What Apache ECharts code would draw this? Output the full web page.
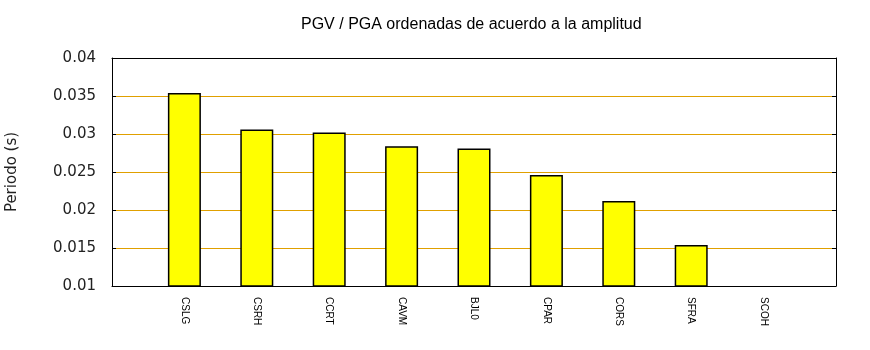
<!DOCTYPE html>
<html>
<head>
<meta charset="utf-8">
<script src="https://cdn.jsdelivr.net/npm/echarts@6/dist/echarts.min.js"></script>
<style>html,body{margin:0;padding:0;background:#fff}#c{width:870px;height:350px}</style>
</head>
<body>
<div id="c"></div>
<script>
var categories = ['CSLG','CSRH','CCRT','CAVM','BJL0','CPAR','CORS','SFRA','SCOH'];
var values = [0.0354, 0.0306, 0.0302, 0.0284, 0.0281, 0.0246, 0.0212, 0.0154, 0.0095];
var yTicks = [0.01, 0.015, 0.02, 0.025, 0.03, 0.035, 0.04];

var cats = [''].concat(categories).concat(['']);
var vals = [null].concat(values).concat([null]);

var chart = echarts.init(document.getElementById('c'), null, {renderer:'canvas'});
chart.setOption({
  animation: false,
  backgroundColor: '#fff',
  title: {
    text: 'PGV / PGA ordenadas de acuerdo a la amplitud',
    left: 301, top: 17, padding: 0,
    textStyle: {fontFamily: 'Liberation Sans', fontSize: 16, fontWeight: 'normal', color: '#000'}
  },
  grid: {left: 112, right: 34, top: 58, bottom: 64, containLabel: false, outerBoundsMode: 'none'},
  xAxis: [{
    type: 'category', data: cats, boundaryGap: false,
    axisLine: {show: true, lineStyle: {color: '#000', width: 1}},
    axisTick: {show: false},
    axisLabel: {rotate: -90, margin: 11, fontFamily: 'Liberation Sans', fontSize: 10, color: '#000', interval: 0}
  }, {
    type: 'category', data: cats, boundaryGap: false, position: 'top',
    axisLine: {show: true, onZero: false, lineStyle: {color: '#000', width: 1}},
    axisTick: {show: false}, axisLabel: {show: false}
  }],
  yAxis: [{
    type: 'value', min: 0.01, max: 0.04, interval: 0.005,
    name: 'Periodo (s)', nameLocation: 'middle', nameGap: 92, nameRotate: 90,
    nameTextStyle: {fontFamily: 'DejaVu Sans', fontSize: 15, color: '#222'},
    axisLine: {show: true, lineStyle: {color: '#000', width: 1}},
    axisTick: {show: true, inside: true, length: 4, lineStyle: {color: '#000'}},
    axisLabel: {margin: 16, fontFamily: 'DejaVu Sans', fontSize: 15, color: '#222',
      formatter: function(v){ return String(parseFloat(v.toFixed(4))); }},
    splitLine: {show: true, lineStyle: {color: '#e0a000', width: 1}}
  }, {
    type: 'value', min: 0.01, max: 0.04, interval: 0.005, position: 'right',
    axisLine: {show: true, onZero: false, lineStyle: {color: '#000', width: 1}},
    axisTick: {show: true, inside: true, length: 4, lineStyle: {color: '#000'}},
    axisLabel: {show: false}, splitLine: {show: false}
  }],
  series: [{
    type: 'bar', data: vals, barWidth: 33, clip: true,
    itemStyle: {color: '#ffff00', borderColor: '#000', borderWidth: 1.5}
  }]
});
</script>
</body>
</html>
